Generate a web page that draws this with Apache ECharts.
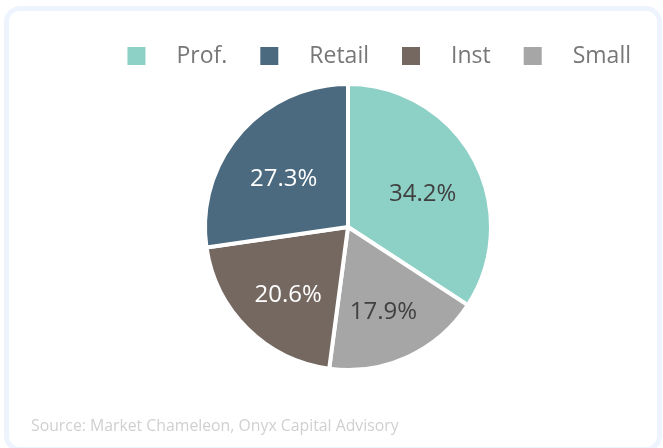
<!DOCTYPE html>
<html lang="en">
<head>
<meta charset="UTF-8">
<title>Pie</title>
<script src="https://cdn.jsdelivr.net/npm/echarts@6/dist/echarts.min.js"></script>
<style>
    body { margin: 0; padding: 0; background: #fff; }
    .card {
        position: absolute;
        left: 4px; top: 6px;
        width: 648px; height: 436px;
        border: 5px solid #eef4fd;
        border-radius: 16px;
        background: #fff;
    }
    #chart { position: absolute; left: 0; top: 0; width: 663px; height: 448px; }
</style>
</head>
<body>
<div class="card"></div>
<div id="chart"></div>
<script>
// data
var names = ['Prof.', 'Small', 'Inst', 'Retail'];
var values = [34.2, 17.9, 20.6, 27.3];
var colors = ['#8dd0c6', '#a6a6a6', '#756861', '#4b6a80'];
var labelColors = ['#404040', '#404040', '#ffffff', '#ffffff'];
var legendOrder = ['Prof.', 'Retail', 'Inst', 'Small'];

var myChart = echarts.init(document.getElementById('chart'));

var slices = [];
var labels = [];
for (var i = 0; i < names.length; i++) {
    slices.push({
        name: names[i],
        value: values[i],
        itemStyle: { color: colors[i] }
    });
    labels.push({
        name: names[i],
        value: values[i],
        label: { color: labelColors[i] }
    });
}

var option = {
    animation: false,
    legend: {
        data: legendOrder,
        right: 32,
        top: 44,
        padding: 0,
        itemWidth: 18,
        itemHeight: 18,
        itemGap: 33,
        icon: 'rect',
        itemStyle: { borderWidth: 0 },
        textStyle: {
            fontFamily: 'Open Sans',
            fontSize: 23,
            lineHeight: 24,
            color: '#777777',
            padding: [0, 0, 0, 26]
        }
    },
    graphic: [{
        type: 'text',
        left: 31,
        top: 418,
        style: {
            text: 'Source: Market Chameleon, Onyx Capital Advisory',
            fontFamily: 'Open Sans',
            fontSize: 15.8,
            fill: '#d0d0d0'
        }
    }],
    series: [{
        type: 'pie',
        center: [348, 227],
        radius: 143,
        startAngle: 90,
        clockwise: true,
        itemStyle: { borderColor: '#ffffff', borderWidth: 4 },
        label: { show: false },
        labelLine: { show: false },
        data: slices
    }, {
        // invisible ring, only to place the percentage labels further out
        type: 'pie',
        center: [348, 227],
        radius: [21, 143],
        startAngle: 90,
        clockwise: true,
        silent: true,
        itemStyle: { color: 'transparent', borderWidth: 0 },
        label: {
            show: true,
            position: 'inside',
            offset: [0, 8],
            formatter: function (p) { return p.value.toFixed(1) + '%'; },
            fontFamily: 'Open Sans',
            fontSize: 24
        },
        labelLine: { show: false },
        data: labels
    }]
};

myChart.setOption(option);
</script>
</body>
</html>
